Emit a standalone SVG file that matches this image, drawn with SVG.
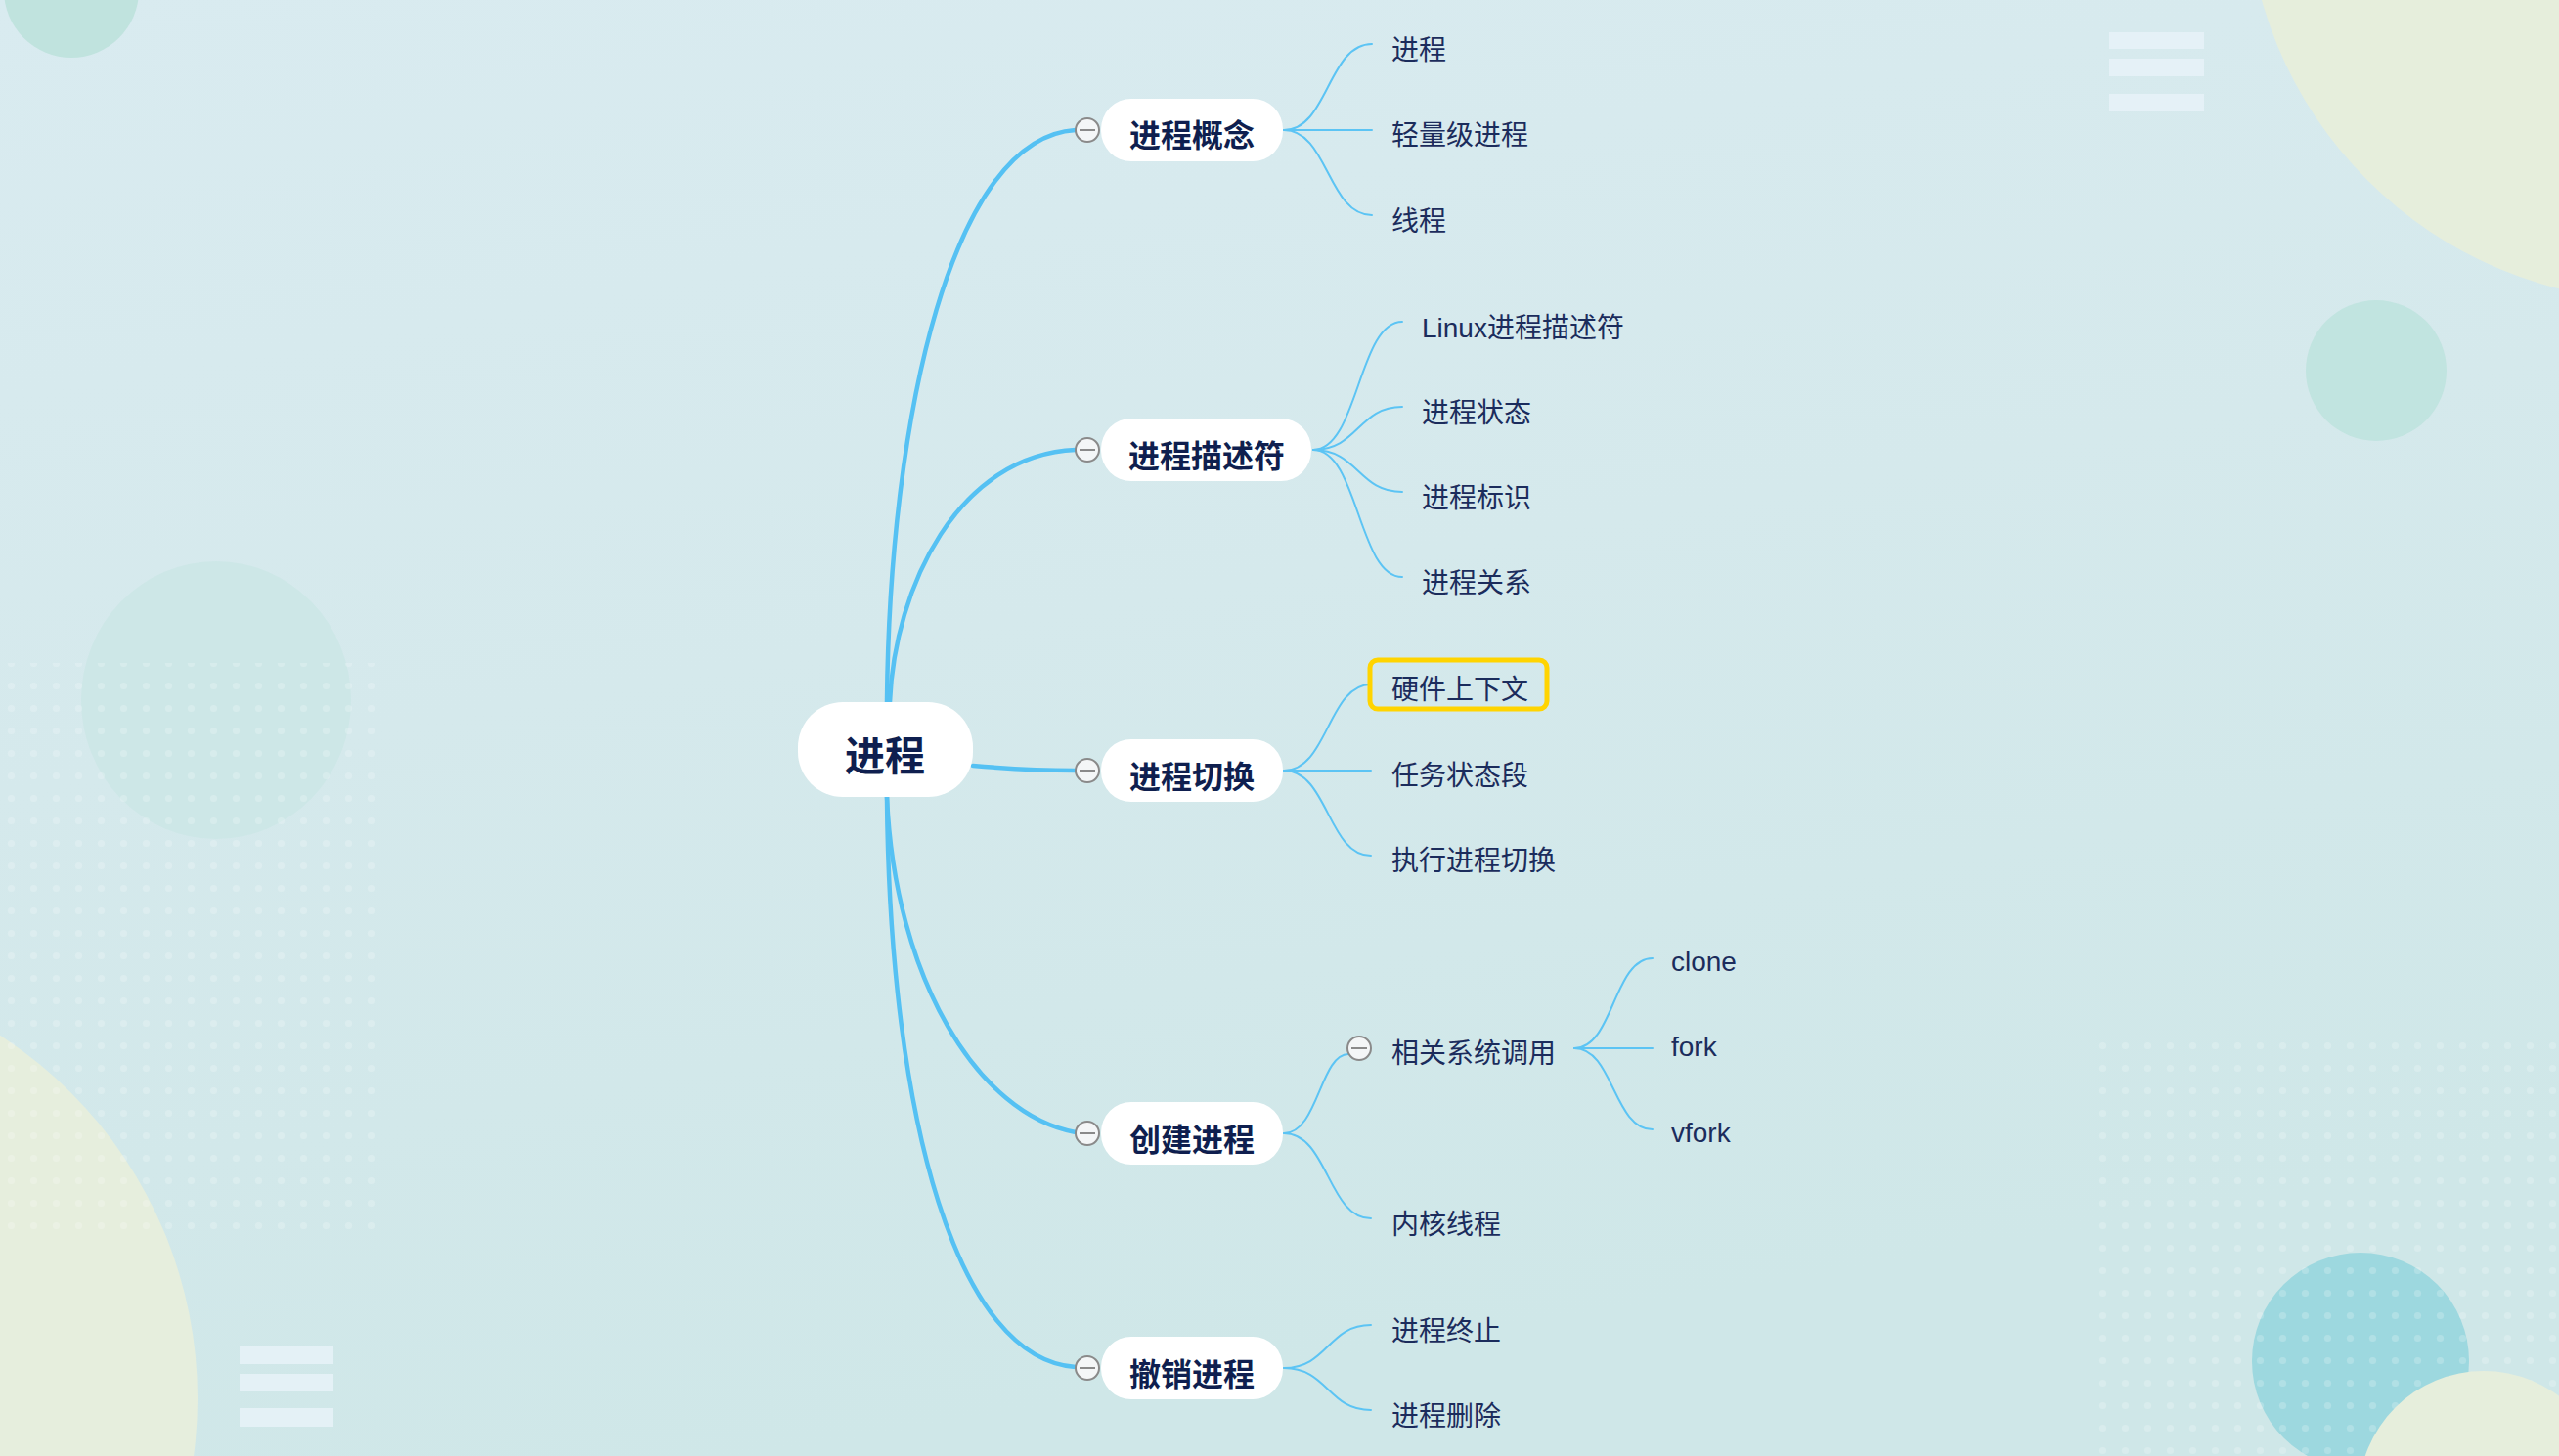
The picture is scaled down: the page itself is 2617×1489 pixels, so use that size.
<svg xmlns="http://www.w3.org/2000/svg" width="2617" height="1489" viewBox="0 0 2617 1489">
<defs>
<linearGradient id="bg" x1="0" y1="0" x2="0.3" y2="1">
<stop offset="0" stop-color="#d9ebf0"/>
<stop offset="0.5" stop-color="#d5e9ec"/>
<stop offset="1" stop-color="#cfe7e8"/>
</linearGradient>
<pattern id="dots" width="23" height="23" patternUnits="userSpaceOnUse">
<circle cx="11.5" cy="11.5" r="3.6" fill="#ffffff" fill-opacity="0.2"/>
</pattern>
<style>
.main{fill:none;stroke:#55c1f3;stroke-width:4.5;stroke-linecap:round}
.sub{fill:none;stroke:#5cc4f4;stroke-width:2;stroke-linecap:round}
.pill{fill:#ffffff}
.t1{font-family:"Liberation Sans","Noto Sans CJK SC",sans-serif;font-weight:bold;font-size:32px;fill:#0f1f4f;text-anchor:middle}
.t0{font-family:"Liberation Sans","Noto Sans CJK SC",sans-serif;font-weight:bold;font-size:41px;fill:#0f1f4f;text-anchor:middle}
.t2{font-family:"Liberation Sans","Noto Sans CJK SC",sans-serif;font-size:28px;fill:#1b2c5c}
.col circle{fill:#f4f6f7;stroke:#8a8a8a;stroke-width:2}
.col line{stroke:#8a8a8a;stroke-width:2}
.bar{fill:#e8f2f8;fill-opacity:0.85}
</style>
</defs>
<g id="background">
<rect x="0" y="0" width="2617" height="1489" fill="url(#bg)"/>
<circle cx="73" cy="-10" r="69" fill="#c0e3de"/>
<ellipse cx="221" cy="716" rx="138" ry="142" fill="#cde7e7"/>
<circle cx="-240" cy="1430" r="442" fill="#e6eedd"/>
<rect x="2" y="678" width="393" height="586" fill="url(#dots)"/>
<rect class="bar" x="245" y="1377" width="96" height="18"/>
<rect class="bar" x="245" y="1405" width="96" height="18"/>
<rect class="bar" x="245" y="1440" width="96" height="19"/>
<circle cx="2720" cy="-115" r="423" fill="#e6eedc"/>
<rect class="bar" x="2157" y="33" width="97" height="17"/>
<rect class="bar" x="2157" y="60" width="97" height="18"/>
<rect class="bar" x="2157" y="96" width="97" height="18"/>
<circle cx="2430" cy="379" r="72" fill="#c1e4e0"/>
<circle cx="2414" cy="1392" r="111" fill="#9dd8df"/>
<rect x="2146" y="1060" width="471" height="429" fill="url(#dots)"/>
<circle cx="2540" cy="1530" r="128" fill="#e6eedc"/>
</g>
<g id="connectors">
<path class="main" d="M907 718 C910 420 975 140 1100 133"/>
<path class="main" d="M910 718 C915 600 980 465 1100 460"/>
<path class="main" d="M995 783 C1040 787 1060 788 1100 788"/>
<path class="main" d="M907 815 C915 1000 1000 1140 1100 1158"/>
<path class="main" d="M907 815 C910 1150 980 1390 1100 1398"/>
<path class="sub" d="M1313 133 C1358 133 1358 45 1403 45"/>
<path class="sub" d="M1313 133 L1403 133"/>
<path class="sub" d="M1313 133 C1358 133 1358 220 1403 220"/>
<path class="sub" d="M1343 460 C1389 460 1389 329 1434 329"/>
<path class="sub" d="M1343 460 C1389 460 1389 416 1434 416"/>
<path class="sub" d="M1343 460 C1389 460 1389 503 1434 503"/>
<path class="sub" d="M1343 460 C1389 460 1389 590 1434 590"/>
<path class="sub" d="M1313 788 C1358 788 1358 700 1402 700"/>
<path class="sub" d="M1313 788 L1402 788"/>
<path class="sub" d="M1313 788 C1358 788 1358 875 1402 875"/>
<path class="sub" d="M1313 1159 C1348 1159 1350 1078 1379 1078"/>
<path class="sub" d="M1313 1159 C1358 1159 1358 1246 1402 1246"/>
<path class="sub" d="M1610 1072 C1650 1072 1650 980 1690 980"/>
<path class="sub" d="M1610 1072 L1690 1072"/>
<path class="sub" d="M1610 1072 C1650 1072 1650 1155 1690 1155"/>
<path class="sub" d="M1313 1399 C1358 1399 1358 1355 1402 1355"/>
<path class="sub" d="M1313 1399 C1358 1399 1358 1442 1402 1442"/>
</g>
<g id="root">
<rect class="pill" x="816" y="718" width="179" height="97" rx="46"/>
<text class="t0" x="905" y="788">进程</text>
</g>
<g id="n-concept">
<rect class="pill" x="1126" y="101" width="186" height="64" rx="31"/>
<text class="t1" x="1219" y="150">进程概念</text>
<g class="col"><circle cx="1112" cy="133" r="12"/><line x1="1104" y1="133" x2="1120" y2="133"/></g>
</g>
<g id="n-descriptor">
<rect class="pill" x="1126" y="428" width="215" height="64" rx="31"/>
<text class="t1" x="1234" y="478">进程描述符</text>
<g class="col"><circle cx="1112" cy="460" r="12"/><line x1="1104" y1="460" x2="1120" y2="460"/></g>
</g>
<g id="n-switch">
<rect class="pill" x="1126" y="756" width="186" height="64" rx="31"/>
<text class="t1" x="1219" y="806">进程切换</text>
<g class="col"><circle cx="1112" cy="788" r="12"/><line x1="1104" y1="788" x2="1120" y2="788"/></g>
</g>
<g id="n-create">
<rect class="pill" x="1126" y="1127" width="186" height="64" rx="31"/>
<text class="t1" x="1219" y="1177">创建进程</text>
<g class="col"><circle cx="1112" cy="1159" r="12"/><line x1="1104" y1="1159" x2="1120" y2="1159"/></g>
</g>
<g id="n-destroy">
<rect class="pill" x="1126" y="1367" width="186" height="64" rx="31"/>
<text class="t1" x="1219" y="1417">撤销进程</text>
<g class="col"><circle cx="1112" cy="1399" r="12"/><line x1="1104" y1="1399" x2="1120" y2="1399"/></g>
</g>
<g id="l-process"><text class="t2" x="1423" y="61">进程</text></g>
<g id="l-lwp"><text class="t2" x="1423" y="148">轻量级进程</text></g>
<g id="l-thread"><text class="t2" x="1423" y="236">线程</text></g>
<g id="l-linuxdesc"><text class="t2" x="1454" y="345">Linux进程描述符</text></g>
<g id="l-state"><text class="t2" x="1454" y="432">进程状态</text></g>
<g id="l-id"><text class="t2" x="1454" y="519">进程标识</text></g>
<g id="l-rel"><text class="t2" x="1454" y="606">进程关系</text></g>
<g id="l-hwctx">
<rect x="1401" y="675" width="181" height="50" rx="8" fill="none" stroke="#ffd400" stroke-width="5"/>
<text class="t2" x="1423" y="715">硬件上下文</text>
</g>
<g id="l-tss"><text class="t2" x="1423" y="803">任务状态段</text></g>
<g id="l-exec"><text class="t2" x="1423" y="890">执行进程切换</text></g>
<g id="l-syscall">
<g class="col"><circle cx="1390" cy="1072" r="12"/><line x1="1382" y1="1072" x2="1398" y2="1072"/></g>
<text class="t2" x="1423" y="1087">相关系统调用</text>
</g>
<g id="l-kthread"><text class="t2" x="1423" y="1262">内核线程</text></g>
<g id="l-clone"><text class="t2" x="1709" y="993">clone</text></g>
<g id="l-fork"><text class="t2" x="1709" y="1080">fork</text></g>
<g id="l-vfork"><text class="t2" x="1709" y="1168">vfork</text></g>
<g id="l-exit"><text class="t2" x="1423" y="1371">进程终止</text></g>
<g id="l-delete"><text class="t2" x="1423" y="1458">进程删除</text></g>
</svg>
